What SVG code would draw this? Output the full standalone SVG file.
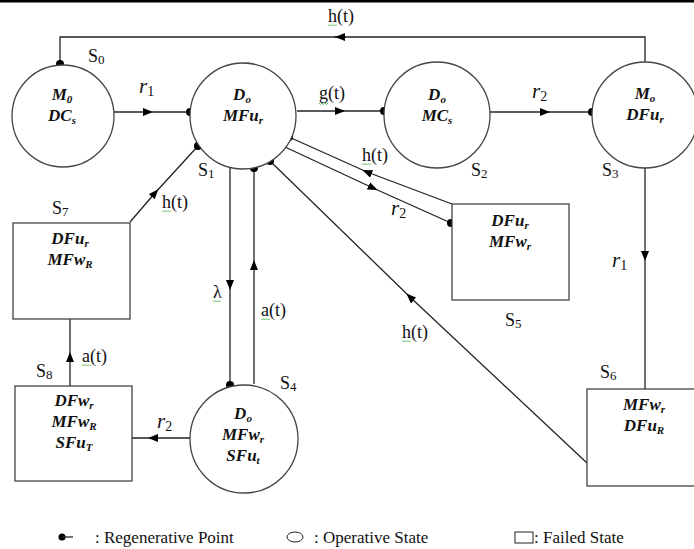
<svg xmlns="http://www.w3.org/2000/svg" width="694" height="549" viewBox="0 0 694 549">
<style>
.ln{fill:none;stroke:#222;stroke-width:1.3}
.nd{fill:#fff;stroke:#444;stroke-width:1.3}
.lb{font-family:"Liberation Serif",serif;font-size:18px;fill:#111}
.lg{font-family:"Liberation Serif",serif;font-size:17px;fill:#111}
.mt{font-family:"Liberation Serif",serif;font-size:17px;font-weight:bold;font-style:italic;fill:#111;text-anchor:middle}
.ri{font-family:"Liberation Serif",serif;font-size:21px;font-style:italic;fill:#111}
.dot{fill:#000}
.sq{fill:none;stroke:#3a3;stroke-width:0.8}
</style>
<defs>
<marker id="ar" viewBox="0 0 10 8" refX="5" refY="4" markerWidth="10" markerHeight="8" markerUnits="userSpaceOnUse" orient="auto">
<path d="M0,0 L10,4 L0,8 z" fill="#000"/>
</marker>
</defs>
<rect x="0" y="0" width="694" height="2.5" fill="#000"/>

<g id="connectors">
<path class="ln" d="M645,63 L645,37 L60,37 L60,64"/>
<path class="ln" d="M346,37 L340,37 L334,37" marker-mid="url(#ar)"/>
<path class="ln" d="M114,112 L148,112 L190,112" marker-mid="url(#ar)"/>
<path class="ln" d="M297,111 L340,111 L384,111" marker-mid="url(#ar)"/>
<path class="ln" d="M490,112 L545,112 L592,112" marker-mid="url(#ar)"/>
<path class="ln" d="M130,222 L155,193 L198,146" marker-mid="url(#ar)"/>
<path class="ln" d="M452,204 L367,172 L289,137" marker-mid="url(#ar)"/>
<path class="ln" d="M285,147 L373,188 L451,223" marker-mid="url(#ar)"/>
<path class="ln" d="M645,168 L645,256 L645,389" marker-mid="url(#ar)"/>
<path class="ln" d="M587,463 L410,297 L270,161" marker-mid="url(#ar)"/>
<path class="ln" d="M230,166 L230,285 L230,386" marker-mid="url(#ar)"/>
<path class="ln" d="M254,384 L254,265 L254,168" marker-mid="url(#ar)"/>
<path class="ln" d="M70,386 L70,357 L70,319" marker-mid="url(#ar)"/>
<path class="ln" d="M190,438 L153,438 L132,438" marker-mid="url(#ar)"/>
<circle class="dot" cx="60" cy="64" r="4"/>
<circle class="dot" cx="190" cy="112" r="4"/>
<circle class="dot" cx="384" cy="111" r="4"/>
<circle class="dot" cx="592" cy="112" r="4"/>
<circle class="dot" cx="198" cy="146" r="4"/>
<circle class="dot" cx="289" cy="137" r="4"/>
<circle class="dot" cx="270" cy="161" r="4"/>
<circle class="dot" cx="254" cy="168" r="4"/>
<circle class="dot" cx="451" cy="223" r="4"/>
<circle class="dot" cx="230" cy="385" r="4"/>
</g>

<g id="S0">
<circle class="nd" cx="63" cy="116" r="51"/>
<text class="mt" x="62" y="100">M<tspan font-size="11" dy="3">0</tspan></text>
<text class="mt" x="62" y="121">DC<tspan font-size="11" dy="3">s</tspan></text>
<text class="lb" x="88" y="62">S<tspan font-size="13" dy="2">0</tspan></text>
</g>
<g id="S1">
<circle class="nd" cx="243" cy="116" r="53"/>
<text class="mt" x="242" y="100">D<tspan font-size="11" dy="3">o</tspan></text>
<text class="mt" x="243" y="121">MFu<tspan font-size="11" dy="3">r</tspan></text>
<text class="lb" x="198" y="176">S<tspan font-size="13" dy="2">1</tspan></text>
</g>
<g id="S2">
<circle class="nd" cx="437" cy="115" r="53"/>
<text class="mt" x="437" y="100">D<tspan font-size="11" dy="3">o</tspan></text>
<text class="mt" x="437" y="121">MC<tspan font-size="11" dy="3">s</tspan></text>
<text class="lb" x="471" y="176">S<tspan font-size="13" dy="2">2</tspan></text>
</g>
<g id="S3">
<circle class="nd" cx="645" cy="115" r="53"/>
<text class="mt" x="645" y="99">M<tspan font-size="11" dy="3">o</tspan></text>
<text class="mt" x="645" y="120">DFu<tspan font-size="11" dy="3">r</tspan></text>
<text class="lb" x="602" y="176">S<tspan font-size="13" dy="2">3</tspan></text>
</g>
<g id="S4">
<circle class="nd" cx="244" cy="439" r="54"/>
<text class="mt" x="243" y="419">D<tspan font-size="11" dy="3">o</tspan></text>
<text class="mt" x="243" y="440">MFw<tspan font-size="11" dy="3">r</tspan></text>
<text class="mt" x="243" y="461">SFu<tspan font-size="11" dy="3">t</tspan></text>
<text class="lb" x="280" y="389">S<tspan font-size="13" dy="2">4</tspan></text>
</g>
<g id="S5">
<rect class="nd" x="452" y="204" width="117" height="96"/>
<text class="mt" x="510" y="226">DFu<tspan font-size="11" dy="3">r</tspan></text>
<text class="mt" x="510" y="247">MFw<tspan font-size="11" dy="3">r</tspan></text>
<text class="lb" x="505" y="326">S<tspan font-size="13" dy="2">5</tspan></text>
</g>
<g id="S6">
<rect class="nd" x="587" y="389" width="120" height="97"/>
<text class="mt" x="644" y="410">MFw<tspan font-size="11" dy="3">r</tspan></text>
<text class="mt" x="644" y="431">DFu<tspan font-size="11" dy="3">R</tspan></text>
<text class="lb" x="600" y="378">S<tspan font-size="13" dy="2">6</tspan></text>
</g>
<g id="S7">
<rect class="nd" x="13" y="223" width="117" height="96"/>
<text class="mt" x="70" y="244">DFu<tspan font-size="11" dy="3">r</tspan></text>
<text class="mt" x="70" y="265">MFw<tspan font-size="11" dy="3">R</tspan></text>
<text class="lb" x="52" y="214">S<tspan font-size="13" dy="2">7</tspan></text>
</g>
<g id="S8">
<rect class="nd" x="15" y="386" width="117" height="95"/>
<text class="mt" x="74" y="406">DFw<tspan font-size="11" dy="3">r</tspan></text>
<text class="mt" x="74" y="427">MFw<tspan font-size="11" dy="3">R</tspan></text>
<text class="mt" x="74" y="448">SFu<tspan font-size="11" dy="3">T</tspan></text>
<text class="lb" x="36" y="377">S<tspan font-size="13" dy="2">8</tspan></text>
</g>

<g id="labels">
<text class="lb" x="328" y="22">h(t)</text>
<path class="sq" d="M328,24.5 l1.5,1.5 l1.5,-1.5 l1.5,1.5 l1.5,-1.5 l1.5,1.5 l1.5,-1.5"/>
<text class="ri" x="139" y="93">r<tspan font-size="14" dy="3" font-style="normal">1</tspan></text>
<text class="lb" x="319" y="99">g(t)</text>
<path class="sq" d="M319,103 l1.5,1.5 l1.5,-1.5 l1.5,1.5 l1.5,-1.5 l1.5,1.5 l1.5,-1.5"/>
<text class="ri" x="532" y="98">r<tspan font-size="14" dy="3" font-style="normal">2</tspan></text>
<text class="lb" x="362" y="161">h(t)</text>
<path class="sq" d="M362,163.5 l1.5,1.5 l1.5,-1.5 l1.5,1.5 l1.5,-1.5 l1.5,1.5 l1.5,-1.5"/>
<text class="ri" x="391" y="215">r<tspan font-size="14" dy="3" font-style="normal">2</tspan></text>
<text class="lb" x="162" y="208">h(t)</text>
<path class="sq" d="M162,210.5 l1.5,1.5 l1.5,-1.5 l1.5,1.5 l1.5,-1.5 l1.5,1.5 l1.5,-1.5"/>
<text class="lb" x="213" y="298">λ</text>
<path class="sq" d="M213,300.5 l1.5,1.5 l1.5,-1.5 l1.5,1.5 l1.5,-1.5 l1.5,1.5"/>
<text class="lb" x="261" y="316">a(t)</text>
<path class="sq" d="M261,318.5 l1.5,1.5 l1.5,-1.5 l1.5,1.5 l1.5,-1.5 l1.5,1.5 l1.5,-1.5"/>
<text class="ri" x="612" y="267">r<tspan font-size="14" dy="3" font-style="normal">1</tspan></text>
<text class="lb" x="402" y="338">h(t)</text>
<path class="sq" d="M402,340.5 l1.5,1.5 l1.5,-1.5 l1.5,1.5 l1.5,-1.5 l1.5,1.5 l1.5,-1.5"/>
<text class="lb" x="82" y="362">a(t)</text>
<path class="sq" d="M82,364.5 l1.5,1.5 l1.5,-1.5 l1.5,1.5 l1.5,-1.5 l1.5,1.5 l1.5,-1.5"/>
<text class="ri" x="157" y="428">r<tspan font-size="14" dy="3" font-style="normal">2</tspan></text>
</g>

<g id="legend">
<circle class="dot" cx="62" cy="537" r="3.5"/>
<line class="ln" x1="62" y1="537" x2="73" y2="537"/>
<text class="lg" x="95" y="543">: Regenerative Point</text>
<ellipse cx="295" cy="537" rx="8" ry="5" fill="#fff" stroke="#222" stroke-width="1"/>
<text class="lg" x="314" y="543">: Operative State</text>
<rect x="515" y="532" width="18" height="11" fill="#fff" stroke="#222" stroke-width="1"/>
<text class="lg" x="534" y="543">: Failed State</text>
</g>
</svg>
